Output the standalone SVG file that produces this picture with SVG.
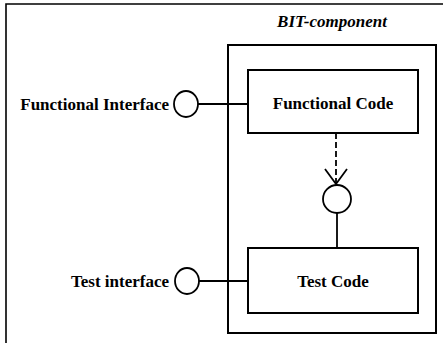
<svg xmlns="http://www.w3.org/2000/svg" width="443" height="343" viewBox="0 0 443 343">
  <style>
    .frame { fill: none; stroke: #000; stroke-width: 1.6; }
    .box { fill: #fff; stroke: #000; stroke-width: 2; }
    .port { fill: #fff; stroke: #000; stroke-width: 1.8; }
    .wire { fill: none; stroke: #000; stroke-width: 1.8; }
    .dash { fill: none; stroke: #000; stroke-width: 1.8; stroke-dasharray: 6 3; }
    .lbl { font-family: "Liberation Serif", "Times New Roman", serif; font-size: 17px; font-weight: bold; fill: #000; }
    .title { font-family: "Liberation Serif", "Times New Roman", serif; font-size: 17px; font-weight: bold; font-style: italic; fill: #000; }
  </style>
  <defs>
    <marker id="openV" markerWidth="18" markerHeight="24" viewBox="0 0 18 24" refX="16" refY="12" orient="auto" markerUnits="userSpaceOnUse">
      <path d="M1,1 L16,12 L1,23" fill="none" stroke="#000" stroke-width="1.8"/>
    </marker>
  </defs>

  <rect width="443" height="343" fill="#fff"/>

  <!-- surrounding frame (open on right and bottom) -->
  <path class="frame" d="M6,343 L6,4 L443,4"/>

  <!-- BIT component container -->
  <g id="bit-component">
    <rect class="box" x="228" y="45" width="208" height="288"/>
    <text class="title" x="332" y="27" text-anchor="middle">BIT-component</text>
  </g>

  <g id="functional-code">
    <rect class="box" x="248" y="70" width="170" height="63"/>
    <text class="lbl" x="333" y="109" text-anchor="middle">Functional Code</text>
  </g>

  <g id="test-code">
    <rect class="box" x="248" y="248" width="170" height="65"/>
    <text class="lbl" x="333" y="287" text-anchor="middle">Test Code</text>
  </g>

  <g id="functional-interface">
    <ellipse class="port" cx="186" cy="104" rx="12" ry="13"/>
    <text class="lbl" x="169" y="110" text-anchor="end">Functional Interface</text>
  </g>

  <g id="test-interface">
    <ellipse class="port" cx="187" cy="281" rx="12" ry="13"/>
    <text class="lbl" x="169" y="287" text-anchor="end">Test interface</text>
  </g>

  <g id="internal-port">
    <ellipse class="port" cx="337" cy="199" rx="14" ry="14"/>
  </g>

  <!-- connectors -->
  <g id="connectors">
    <line class="wire" x1="198" y1="104" x2="248" y2="104"/>
    <line class="wire" x1="199" y1="281" x2="248" y2="281"/>
    <line class="dash" x1="336" y1="133" x2="336" y2="184" marker-end="url(#openV)"/>
    <line class="wire" x1="337" y1="213" x2="337" y2="248"/>
  </g>
</svg>
